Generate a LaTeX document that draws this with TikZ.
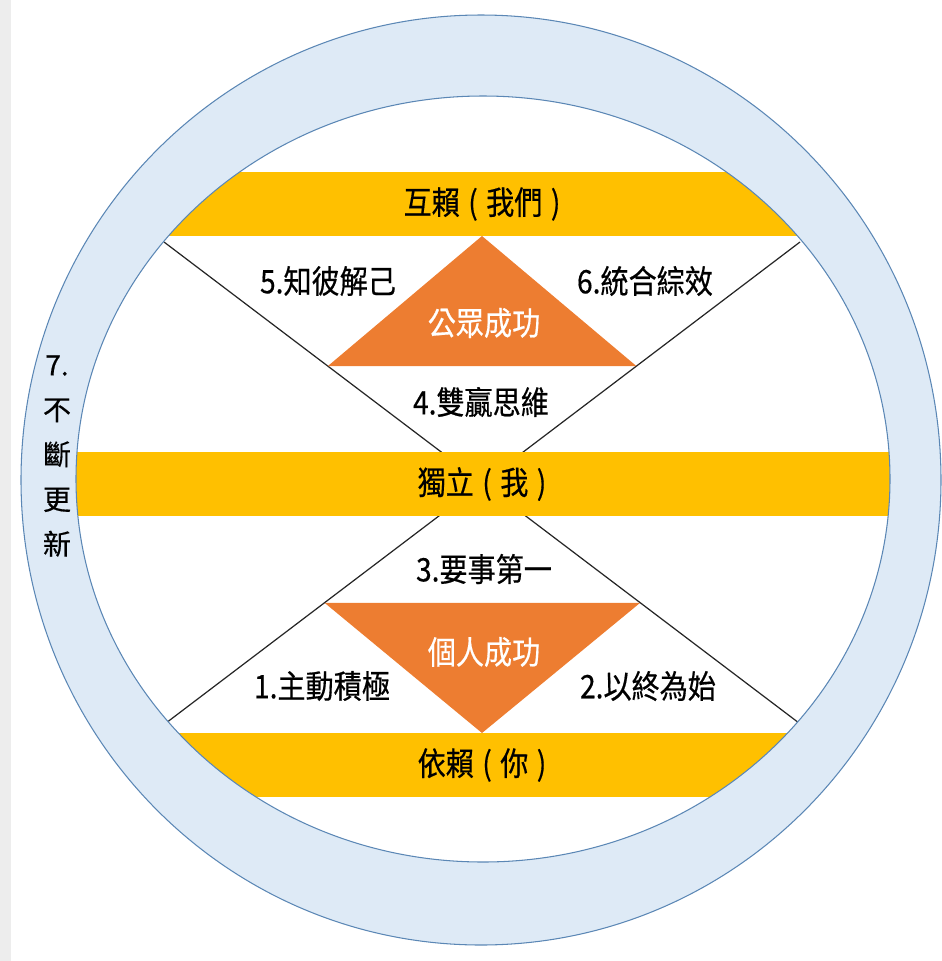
\documentclass[tikz,border=0pt]{standalone}
\usepackage{fontspec}
\newfontfamily\tcfont[FakeBold=0.5]{Noto Sans CJK TC}
\usetikzlibrary{calc}

\definecolor{bargold}{HTML}{FFC000}
\definecolor{triorange}{HTML}{ED7D31}
\definecolor{ringfill}{HTML}{DEEAF6}
\definecolor{ringline}{HTML}{5B87B5}

% taller glyphs, spaced brackets
\newcommand\tall[1]{\scalebox{1}[1.15]{#1}}
\newcommand\lp{\hspace{.3em}(\hspace{.3em}}
\newcommand\rp{\hspace{.3em})}

\begin{document}
\begin{tikzpicture}[x=0.02cm, y=-0.02cm]
    \tikzset{
        bar/.style={fill=bargold, minimum width=18cm, minimum height=1.28cm, inner sep=0pt, font=\tcfont\fontsize{16}{18}\selectfont},
        habit/.style={inner sep=0pt, font=\tcfont\fontsize{16}{18}\selectfont},
        win/.style={habit, text=white},
        tri/.style={fill=triorange},
        xline/.style={draw=black!85, line width=0.7pt},
        ring/.style={fill=ringfill, draw=ringline, line width=0.6pt, even odd rule}
    }
    \useasboundingbox (0,0) rectangle (941,961);
    \fill[black!7] (0,0) rectangle (11,961);

    % points where the cross meets the inner edge
    \coordinate (ul) at (164,242);
    \coordinate (ur) at (800,242);
    \coordinate (ll) at (166,723);
    \coordinate (lr) at (799,723);

    \begin{scope}
        \clip (483,479) ellipse [x radius=407, y radius=383];

        \draw[xline] (ul) -- (lr);
        \draw[xline] (ur) -- (ll);

        % Bars:
        \foreach \n/\y/\t in {top/204/互賴\lp 我們\rp, mid/484/獨立\lp 我\rp, bot/765/依賴\lp 你\rp} {
            \node[bar] (bar-\n) at (482,\y) {\tall{\t}};
        }
    \end{scope}

    % Triangles:
    \coordinate (pub-apex) at (482,236);
    \coordinate (pub-l) at ($(ul)!.258!(lr)$);
    \coordinate (pub-r) at ($(ur)!.258!(ll)$);
    \fill[tri] (pub-apex) -- (pub-l) -- (pub-r) -- cycle;

    \coordinate (priv-apex) at (482,733);
    \coordinate (priv-l) at ($(ur)!.75!(ll)$);
    \coordinate (priv-r) at ($(ul)!.75!(lr)$);
    \fill[tri] (priv-apex) -- (priv-l) -- (priv-r) -- cycle;

    \node[win] (win-pub) at (484,323) {\tall{公眾成功}};
    \node[win] (win-priv) at (484,652) {\tall{個人成功}};

    % Habits:
    \foreach \n/\x/\y/\t in {1/322/686/1.主動積極, 2/648/686/2.以終為始, 3/484/569/3.要事第一,
                             4/481/402/4.雙贏思維, 5/328/281/5.知彼解己, 6/645/281/6.統合綜效} {
        \node[habit] (habit-\n) at (\x,\y) {\tall{\t}};
    }

    % Ring:
    \path[ring] (481,480) ellipse [x radius=460, y radius=465]
                (483,479) ellipse [x radius=407, y radius=383];
    \node[habit, align=center, font=\tcfont\fontsize{16}{25.5}\selectfont] (habit-7) at (57,456) {7.\\不\\斷\\更\\新};
\end{tikzpicture}
\end{document}
